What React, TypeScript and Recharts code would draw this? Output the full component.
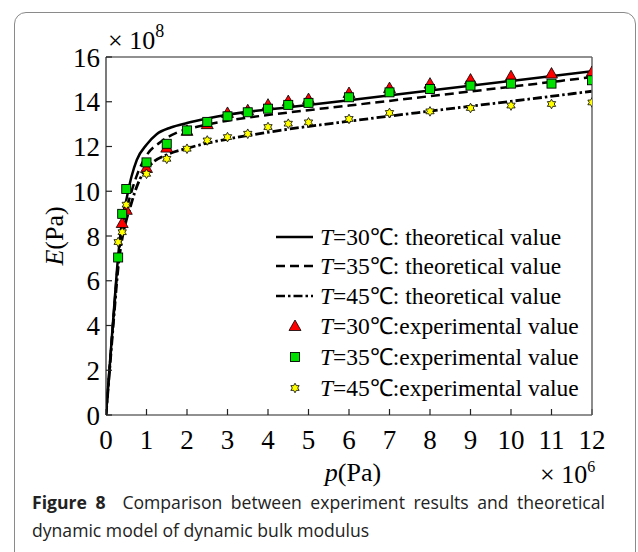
import React from 'react';
import { ComposedChart, Line, Scatter, XAxis, YAxis, Legend } from 'recharts';

// ---- axis ticks ----
const xTicks = [0, 1, 2, 3, 4, 5, 6, 7, 8, 9, 10, 11, 12];
const yTicks = [0, 2, 4, 6, 8, 10, 12, 14, 16];

// ---- theoretical curves (p in 1e6 Pa, E in 1e8 Pa) ----
const pTheory30 = [0, 0.1, 0.2, 0.3, 0.4, 0.5, 0.63, 0.76, 1.0, 1.25, 1.6, 2.0, 2.5, 3.0, 4.5, 6.0, 8.0, 10.0, 12.0];
const eTheory30 = [0, 2.4, 4.8, 7.1, 8.7, 9.6, 10.66, 11.4, 12.08, 12.55, 12.85, 13.05, 13.25, 13.42, 13.75, 14.07, 14.5, 14.93, 15.36];

const pTheory35 = [0, 0.1, 0.2, 0.3, 0.4, 0.5, 0.6, 0.76, 1.0, 1.33, 1.75, 2.25, 2.75, 3.0, 4.5, 6.0, 8.0, 10.0, 12.0];
const eTheory35 = [0, 2.35, 4.7, 6.9, 8.3, 9.15, 9.8, 10.7, 11.6, 12.18, 12.62, 12.88, 13.07, 13.15, 13.52, 13.83, 14.25, 14.67, 15.1];

const pTheory45 = [0, 0.1, 0.2, 0.3, 0.4, 0.5, 0.6, 0.7, 0.84, 1.1, 1.5, 2.0, 2.5, 3.0, 4.3, 6.0, 8.0, 10.0, 12.0];
const eTheory45 = [0, 2.25, 4.5, 6.6, 7.9, 8.7, 9.3, 9.9, 10.55, 11.19, 11.63, 11.92, 12.15, 12.33, 12.72, 13.13, 13.58, 14.02, 14.47];

// ---- experimental points ----
const pExp30 = [0.4, 0.5, 1.0, 1.5, 2.0, 2.5, 3.0, 3.5, 4.0, 4.5, 5.0, 6.0, 7.0, 8.0, 9.0, 10.0, 11.0, 12.0];
const eExp30 = [8.58, 9.17, 11.04, 11.95, 12.7, 13.0, 13.5, 13.62, 13.87, 14.03, 14.12, 14.39, 14.61, 14.81, 14.99, 15.14, 15.26, 15.33];

const pExp35 = [0.3, 0.4, 0.5, 1.0, 1.5, 2.0, 2.5, 3.0, 3.5, 4.0, 4.5, 5.0, 6.0, 7.0, 8.0, 9.0, 10.0, 11.0, 12.0];
const eExp35 = [7.04, 8.99, 10.1, 11.29, 12.12, 12.72, 13.1, 13.35, 13.53, 13.69, 13.86, 13.95, 14.2, 14.42, 14.57, 14.72, 14.81, 14.81, 14.96];

const pExp45 = [0.3, 0.4, 0.5, 1.0, 1.5, 2.0, 2.5, 3.0, 3.5, 4.0, 4.5, 5.0, 6.0, 7.0, 8.0, 9.0, 10.0, 11.0, 12.0];
const eExp45 = [7.73, 8.17, 9.4, 10.78, 11.45, 11.9, 12.27, 12.42, 12.57, 12.87, 13.02, 13.08, 13.23, 13.5, 13.57, 13.72, 13.83, 13.9, 13.97];

const legendLabels = [
  { t: '30', kind: 'theo' },
  { t: '35', kind: 'theo' },
  { t: '45', kind: 'theo' },
  { t: '30', kind: 'exp' },
  { t: '35', kind: 'exp' },
  { t: '45', kind: 'exp' },
];

const zip = (ps: number[], es: number[]) => ps.map((p, i) => ({ p, E: es[i] }));

const theo30 = zip(pTheory30, eTheory30);
const theo35 = zip(pTheory35, eTheory35);
const theo45 = zip(pTheory45, eTheory45);
const exp30 = zip(pExp30, eExp30);
const exp35 = zip(pExp35, eExp35);
const exp45 = zip(pExp45, eExp45);

const SERIF = "'Liberation Serif', 'Times New Roman', Times, serif";
const SANS = "'Open Sans', 'Noto Sans', sans-serif";

const RED = '#ff0000';
const GREEN = '#00e000';
const YELLOW = '#ffff00';

const DASH35 = '9 5';
const DASH45 = '9 3 2.5 3';

const triPath = (cx: number, cy: number) =>
  `M${cx},${cy - 6} L${cx + 6},${cy + 4.5} L${cx - 6},${cy + 4.5} Z`;

const starPath = (cx: number, cy: number) => {
  const pts: string[] = [];
  for (let i = 0; i < 12; i++) {
    const r = i % 2 === 0 ? 4.8 : 2.7;
    const a = (Math.PI / 6) * i - Math.PI / 2;
    pts.push(`${(cx + r * Math.cos(a)).toFixed(2)},${(cy + r * Math.sin(a)).toFixed(2)}`);
  }
  return `M${pts.join(' L')} Z`;
};

const TriangleShape = (props: any) => {
  const { cx, cy } = props;
  if (cx == null || cy == null) return <g />;
  return <path d={triPath(cx, cy)} fill={RED} stroke="#000" strokeWidth={0.8} />;
};

const SquareShape = (props: any) => {
  const { cx, cy } = props;
  if (cx == null || cy == null) return <g />;
  return <rect x={cx - 4.5} y={cy - 4.5} width={9} height={9} fill={GREEN} stroke="#000" strokeWidth={0.9} />;
};

const StarShape = (props: any) => {
  const { cx, cy } = props;
  if (cx == null || cy == null) return <g />;
  return <path d={starPath(cx, cy)} fill={YELLOW} stroke="#000" strokeWidth={0.8} />;
};

const renderLegend = () => {
  const rows = [15, 44, 74, 104, 135, 166];
  return (
    <svg width={340} height={185} style={{ display: 'block', overflow: 'visible' }}>
      {legendLabels.map((l, i) => {
        const y = rows[i];
        let sym: React.ReactNode = null;
        if (i === 0) sym = <line x1={16} x2={53} y1={y} y2={y} stroke="#000" strokeWidth={2.5} />;
        if (i === 1) sym = <line x1={16} x2={53} y1={y} y2={y} stroke="#000" strokeWidth={2.5} strokeDasharray={DASH35} />;
        if (i === 2) sym = <line x1={16} x2={53} y1={y} y2={y} stroke="#000" strokeWidth={2.5} strokeDasharray={DASH45} />;
        if (i === 3) sym = <path d={triPath(35, y)} fill={RED} stroke="#000" strokeWidth={0.8} />;
        if (i === 4) sym = <rect x={30.5} y={y - 4.5} width={9} height={9} fill={GREEN} stroke="#000" strokeWidth={0.9} />;
        if (i === 5) sym = <path d={starPath(35, y)} fill={YELLOW} stroke="#000" strokeWidth={0.8} />;
        return (
          <g key={i}>
            {sym}
            <text x={60} y={y + 8} fontFamily={SERIF} fontSize={23.5} fill="#000">
              <tspan fontStyle="italic">T</tspan>
              {l.kind === 'theo' ? `=${l.t}℃: theoretical value` : `=${l.t}℃:experimental value`}
            </text>
          </g>
        );
      })}
    </svg>
  );
};

export default function App() {
  const tickStyle = { fill: '#000', fontSize: 27, fontFamily: SERIF };
  const captionStyle: React.CSSProperties = {
    position: 'absolute',
    left: 32,
    width: 573,
    fontFamily: SANS,
    fontSize: 17.6,
    lineHeight: '24px',
    color: '#222',
    whiteSpace: 'nowrap',
  };
  return (
    <div style={{ position: 'absolute', left: 0, top: 0, width: 638, height: 552, background: '#fff', overflow: 'hidden' }}>
      <div
        style={{
          position: 'absolute',
          left: 14,
          top: 12,
          width: 622,
          height: 620,
          border: '1px solid #8a8a8a',
          borderRadius: 12,
          boxSizing: 'border-box',
        }}
      />
      <div style={{ position: 'absolute', left: 0, top: 0 }}>
        <ComposedChart width={638} height={480} margin={{ top: 56, right: 45, bottom: 25, left: 46 }}>
          <XAxis
            xAxisId="b"
            type="number"
            dataKey="p"
            domain={[0, 12]}
            ticks={xTicks}
            allowDataOverflow
            interval={0}
            height={40}
            tickSize={-6}
            tickMargin={21}
            tick={tickStyle}
            stroke="#222"
            axisLine={{ stroke: '#222', strokeWidth: 1.2 }}
            tickLine={{ stroke: '#222', strokeWidth: 1.2 }}
          />
          <XAxis
            xAxisId="t"
            orientation="top"
            type="number"
            dataKey="p"
            domain={[0, 12]}
            ticks={xTicks}
            allowDataOverflow
            interval={0}
            height={1}
            tickSize={-6}
            tick={false}
            axisLine={{ stroke: '#222', strokeWidth: 1.2 }}
            tickLine={{ stroke: '#222', strokeWidth: 1.2 }}
          />
          <YAxis
            yAxisId="l"
            type="number"
            dataKey="E"
            domain={[0, 16]}
            ticks={yTicks}
            allowDataOverflow
            interval={0}
            width={60}
            tickSize={-6}
            tickMargin={12}
            tick={tickStyle}
            axisLine={{ stroke: '#222', strokeWidth: 1.2 }}
            tickLine={{ stroke: '#222', strokeWidth: 1.2 }}
          />
          <YAxis
            yAxisId="r"
            orientation="right"
            type="number"
            dataKey="E"
            domain={[0, 16]}
            ticks={yTicks}
            allowDataOverflow
            interval={0}
            width={1}
            tickSize={-6}
            tick={false}
            axisLine={{ stroke: '#666', strokeWidth: 1.5 }}
            tickLine={{ stroke: '#444', strokeWidth: 1.2 }}
          />
          <Line xAxisId="b" yAxisId="l" data={theo30} dataKey="E" type="monotone" stroke="#000" strokeWidth={2.5} dot={false} activeDot={false} isAnimationActive={false} />
          <Line xAxisId="b" yAxisId="l" data={theo35} dataKey="E" type="monotone" stroke="#000" strokeWidth={2.5} strokeDasharray={DASH35} dot={false} activeDot={false} isAnimationActive={false} />
          <Line xAxisId="b" yAxisId="l" data={theo45} dataKey="E" type="monotone" stroke="#000" strokeWidth={2.8} strokeDasharray={DASH45} dot={false} activeDot={false} isAnimationActive={false} />
          <Scatter xAxisId="b" yAxisId="l" data={exp30} dataKey="E" shape={TriangleShape} isAnimationActive={false} />
          <Scatter xAxisId="b" yAxisId="l" data={exp35} dataKey="E" shape={SquareShape} isAnimationActive={false} />
          <Scatter xAxisId="b" yAxisId="l" data={exp45} dataKey="E" shape={StarShape} isAnimationActive={false} />
          <Legend
            layout="vertical"
            align="center"
            verticalAlign="middle"
            content={renderLegend}
            wrapperStyle={{ position: 'absolute', left: 260, top: 222, width: 340, height: 185 }}
          />
        </ComposedChart>
      </div>
      <svg
        width={638}
        height={552}
        style={{ position: 'absolute', left: 0, top: 0, pointerEvents: 'none' }}
      >
        <text x={108} y={49} fontFamily={SERIF} fontSize={26} fill="#000">
          × 10<tspan dy={-12} fontSize={18}>8</tspan>
        </text>
        <text
          transform="translate(63,236) rotate(-90)"
          textAnchor="middle"
          fontFamily={SERIF}
          fontSize={26}
          fill="#000"
        >
          <tspan fontStyle="italic">E</tspan>(Pa)
        </text>
        <text x={353} y={481} textAnchor="middle" fontFamily={SERIF} fontSize={26} fill="#000">
          <tspan fontStyle="italic">p</tspan>(Pa)
        </text>
        <text x={540} y={483} fontFamily={SERIF} fontSize={26} fill="#000">
          × 10<tspan dy={-11} fontSize={16}>6</tspan>
        </text>
      </svg>
      <div style={{ ...captionStyle, top: 490, whiteSpace: 'normal', textAlign: 'justify', textAlignLast: 'justify' }}>
        <span style={{ fontWeight: 700 }}>Figure 8</span>
        {'\u00a0\u00a0'}Comparison between experiment results and theoretical
      </div>
      <div style={{ ...captionStyle, top: 518 }}>dynamic model of dynamic bulk modulus</div>
    </div>
  );
}
